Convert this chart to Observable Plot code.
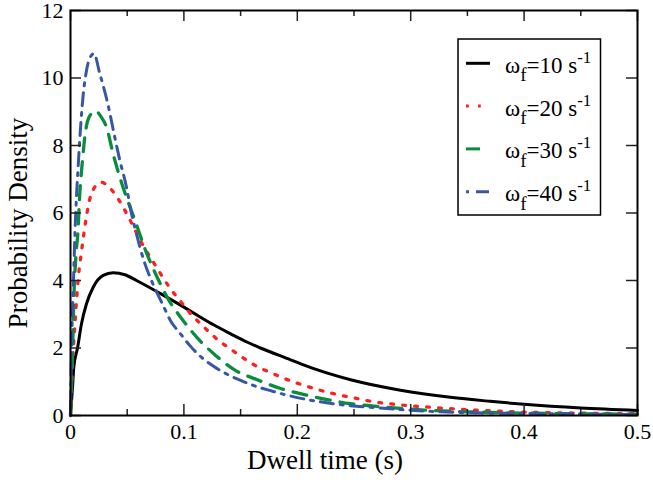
<!DOCTYPE html>
<html>
<head>
<meta charset="utf-8">
<script src="https://cdn.jsdelivr.net/npm/d3@7"></script>
<script src="https://cdn.jsdelivr.net/npm/@observablehq/plot@0.6"></script>
<style>
  html, body { margin: 0; padding: 0; background: white; }
  #chart { width: 653px; height: 482px; }
</style>
</head>
<body>
<div id="chart"></div>
<script>
// ---- Data ----
const xTicks = [0, 0.1, 0.2, 0.3, 0.4, 0.5];
const xTickLabels = ["0", "0.1", "0.2", "0.3", "0.4", "0.5"];
const xMinorTicks = [0.05, 0.15, 0.25, 0.35, 0.45];
const yTicks = [0, 2, 4, 6, 8, 10, 12];
const yTickLabels = ["0", "2", "4", "6", "8", "10", "12"];
const xLabel = "Dwell time (s)";
const yLabel = "Probability Density";
const omegaValues = ["10", "20", "30", "40"];

// omega_f = 10 s^-1
const t10 = [0, 0.0018, 0.0029, 0.0062, 0.0097, 0.0141, 0.020, 0.0288, 0.0376, 0.048, 0.0582, 0.0794, 0.1, 0.1118, 0.1265, 0.1412, 0.156, 0.1676, 0.194, 0.203, 0.247, 0.291, 0.335, 0.37, 0.4, 0.45, 0.5];
const v10 = [0, 0.84, 1.43, 2.0, 2.72, 3.31, 3.80, 4.15, 4.23, 4.17, 4.0, 3.61, 3.21, 2.97, 2.68, 2.42, 2.17, 2.0, 1.65, 1.53, 1.06, 0.75, 0.54, 0.42, 0.33, 0.22, 0.15];

// omega_f = 20 s^-1
const t20 = [0, 0.0024, 0.0038, 0.0053, 0.0068, 0.0097, 0.0127, 0.0165, 0.020, 0.027, 0.0353, 0.0426, 0.053, 0.0632, 0.075, 0.0868, 0.1, 0.1074, 0.1153, 0.123, 0.1315, 0.1403, 0.149, 0.158, 0.1676, 0.178, 0.1868, 0.209, 0.229, 0.25, 0.2706, 0.2926, 0.315, 0.335, 0.37, 0.4, 0.45, 0.5];
const v20 = [0, 1.93, 2.64, 3.41, 4.05, 4.86, 5.6, 6.34, 6.69, 6.91, 6.72, 6.39, 5.76, 5.09, 4.44, 3.82, 3.26, 2.96, 2.70, 2.45, 2.20, 1.99, 1.78, 1.58, 1.40, 1.25, 1.12, 0.86, 0.67, 0.52, 0.39, 0.31, 0.25, 0.20, 0.14, 0.10, 0.07, 0.05];

// omega_f = 30 s^-1
const t30 = [0, 0.0018, 0.0029, 0.0047, 0.0068, 0.0079, 0.0103, 0.013, 0.0165, 0.0223, 0.027, 0.0318, 0.0376, 0.0435, 0.0509, 0.0574, 0.0662, 0.075, 0.0853, 0.0994, 0.1118, 0.127, 0.1447, 0.1647, 0.1853, 0.206, 0.2265, 0.247, 0.2676, 0.291, 0.312, 0.35, 0.4, 0.45, 0.5];
const v30 = [0, 1.83, 3.41, 4.69, 5.58, 6.4, 7.46, 8.35, 8.85, 9.02, 8.85, 8.54, 7.75, 7.06, 6.32, 5.73, 4.89, 4.2, 3.5, 2.81, 2.30, 1.81, 1.35, 1.06, 0.80, 0.62, 0.47, 0.35, 0.28, 0.21, 0.16, 0.11, 0.07, 0.05, 0.04];

// omega_f = 40 s^-1
const t40 = [0, 0.0009, 0.0024, 0.0038, 0.0053, 0.0068, 0.0088, 0.0112, 0.0135, 0.0165, 0.0206, 0.0259, 0.0332, 0.039, 0.0435, 0.0494, 0.0538, 0.0574, 0.0647, 0.072, 0.081, 0.0882, 0.097, 0.1053, 0.1153, 0.1265, 0.1388, 0.1515, 0.1647, 0.178, 0.19, 0.2176, 0.244, 0.2706, 0.297, 0.3265, 0.36, 0.4, 0.45, 0.5];
const v40 = [0, 1.93, 3.7, 5.28, 6.5, 7.4, 8.5, 9.5, 10.1, 10.55, 10.72, 10.12, 9.19, 8.25, 7.56, 6.76, 5.98, 5.48, 4.59, 3.95, 3.31, 2.81, 2.42, 2.07, 1.73, 1.45, 1.21, 1.02, 0.85, 0.72, 0.61, 0.42, 0.30, 0.23, 0.16, 0.11, 0.08, 0.06, 0.04, 0.03];

// ---- Series styling ----
const seriesStyles = [
  {t: t10, v: v10, stroke: "#000000", dash: null, width: 3},
  {t: t20, v: v20, stroke: "#ff1f1f", dash: "2.8,9.2", width: 3.3},
  {t: t30, v: v30, stroke: "#0a8c3e", dash: "14,10", width: 3.3},
  {t: t40, v: v40, stroke: "#3656a6", dash: "3,7,13,7", width: 3}
];

const toRows = (ts, vs) => ts.map((t, i) => ({t, v: vs[i]}));

const W = 653, H = 482;
const mTop = 10, mRight = 16, mBottom = 67, mLeft = 70;
const innerH = H - mTop - mBottom;
const innerW = W - mLeft - mRight;
const majorLen = 11, minorLen = 6;

const lineMarks = seriesStyles.map(s =>
  Plot.line(toRows(s.t, s.v), {
    x: "t", y: "v", stroke: s.stroke, strokeWidth: s.width,
    strokeDasharray: s.dash ?? undefined, curve: "monotone-x"
  })
);

const tickStyle = {stroke: "#222", strokeWidth: 1.5};

const plot = Plot.plot({
  width: W, height: H,
  marginTop: mTop, marginRight: mRight, marginBottom: mBottom, marginLeft: mLeft,
  style: {fontFamily: "'Liberation Serif', 'Times New Roman', serif", fontSize: "22px", background: "white", color: "black"},
  x: {domain: [0, 0.5]},
  y: {domain: [0, 12]},
  marks: [
    ...lineMarks,
    Plot.ruleX(xTicks, {...tickStyle, insetTop: innerH - majorLen}),
    Plot.ruleX(xTicks, {...tickStyle, insetBottom: innerH - majorLen}),
    Plot.ruleX(xMinorTicks, {...tickStyle, insetTop: innerH - minorLen}),
    Plot.ruleX(xMinorTicks, {...tickStyle, insetBottom: innerH - minorLen}),
    Plot.ruleY(yTicks, {...tickStyle, insetRight: innerW - majorLen}),
    Plot.ruleY(yTicks, {...tickStyle, insetLeft: innerW - majorLen}),
    Plot.axisX(xTicks, {tickSize: 0, tickPadding: 8, label: null, fontSize: 22,
      tickFormat: d => xTickLabels[xTicks.indexOf(d)]}),
    Plot.axisY(yTicks, {tickSize: 0, tickPadding: 7, label: null, fontSize: 22,
      tickFormat: d => yTickLabels[yTicks.indexOf(d)]}),
    Plot.frame({stroke: "black", strokeWidth: 2}),
    Plot.text([xLabel], {text: d => d, frameAnchor: "bottom", textAnchor: "middle", lineAnchor: "middle",
      dx: -29, dy: 45, fontSize: 27, fill: "black"}),
    Plot.text([yLabel], {text: d => d, frameAnchor: "left", textAnchor: "middle", lineAnchor: "middle",
      rotate: -90, dx: -52, dy: 10, fontSize: 27, fill: "black"})
  ]
});

document.getElementById("chart").appendChild(plot);

// ---- Legend (drawn into the same SVG) ----
const svg = d3.select(plot);
const lg = svg.append("g").attr("class", "legend").attr("text-anchor", "start");
lg.append("rect")
  .attr("x", 458).attr("y", 39).attr("width", 142.5).attr("height", 176)
  .attr("fill", "white").attr("stroke", "black").attr("stroke-width", 1.5);

seriesStyles.forEach((s, i) => {
  const ly = 63.3 + 42.8 * i;
  const by = 72.7 + 42.8 * i;
  const x2 = i === 1 ? 483 : 490;
  const ln = lg.append("line")
    .attr("x1", 466).attr("x2", x2).attr("y1", ly).attr("y2", ly)
    .attr("stroke", s.stroke).attr("stroke-width", 3);
  if (s.dash) ln.attr("stroke-dasharray", s.dash);
  const tx = lg.append("text")
    .attr("x", 505).attr("y", by).attr("text-anchor", "start")
    .attr("font-size", 23).attr("fill", "black");
  tx.append("tspan").text("ω");
  tx.append("tspan").attr("font-size", 19).attr("dy", 8.5).text("f");
  tx.append("tspan").attr("dy", -8.5).text("=" + omegaValues[i] + " s");
  tx.append("tspan").attr("font-size", 17).attr("dy", -10).text("-1");
});
</script>
</body>
</html>
